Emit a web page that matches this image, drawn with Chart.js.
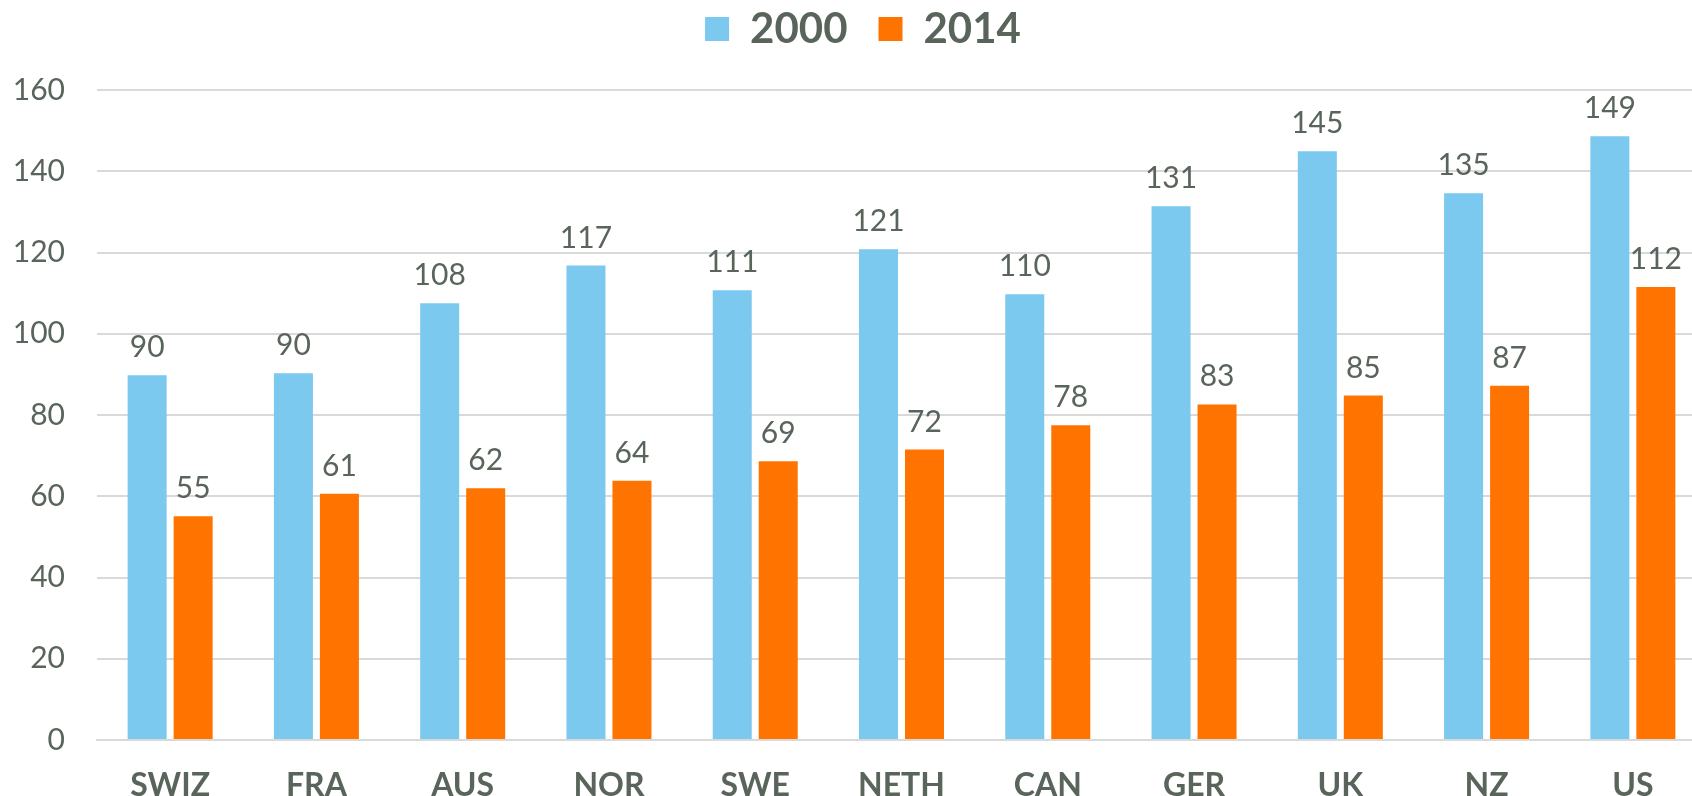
<!DOCTYPE html>
<html>
<head>
<meta charset="utf-8">
<script src="https://cdn.jsdelivr.net/npm/chart.js@4.4.1/dist/chart.umd.min.js"></script>
<style>
html,body{margin:0;padding:0;background:#fff;overflow:hidden;}
#wrap{width:1692px;height:796px;position:relative;overflow:hidden;}
canvas{display:block;}
</style>
</head>
<body>
<div id="wrap"><canvas id="c" width="1706" height="796"></canvas></div>
<script>
const categories = ['SWIZ','FRA','AUS','NOR','SWE','NETH','CAN','GER','UK','NZ','US'];
const seriesNames = ['2000','2014'];
const values2000 = [89.8, 90.3, 107.5, 116.8, 110.7, 120.8, 109.7, 131.4, 144.9, 134.6, 148.6];
const values2014 = [55.1, 60.6, 62.0, 63.8, 68.6, 71.5, 77.5, 82.6, 84.8, 87.2, 111.5];
const yTicks = [0, 20, 40, 60, 80, 100, 120, 140, 160];

const TEXT = '#59655b';
const FONT = 'Lato, "Open Sans", sans-serif';

const valueLabels = {
  id: 'valueLabels',
  afterDatasetsDraw(chart) {
    const ctx = chart.ctx;
    ctx.save();
    ctx.font = '30px ' + FONT;
    ctx.fillStyle = TEXT;
    ctx.textAlign = 'center';
    ctx.textBaseline = 'alphabetic';
    chart.data.datasets.forEach((ds, i) => {
      chart.getDatasetMeta(i).data.forEach((el, j) => {
        ctx.fillText(String(Math.round(ds.data[j])), el.x, el.y - 18);
      });
    });
    ctx.restore();
  }
};

const legendShift = {
  id: 'legendShift',
  afterLayout(chart) {
    const lg = chart.legend;
    if (lg) { lg.top -= 30; lg.bottom -= 30; lg.left += 10; lg.right += 10; }
  }
};

function draw() {
  new Chart(document.getElementById('c'), {
    type: 'bar',
    data: {
      labels: categories,
      datasets: [
        { label: seriesNames[0], data: values2000, backgroundColor: '#7BC9EE', barPercentage: 0.848, categoryPercentage: 0.629 },
        { label: seriesNames[1], data: values2014, backgroundColor: '#FF7400', barPercentage: 0.848, categoryPercentage: 0.629 }
      ]
    },
    options: {
      responsive: false,
      animation: false,
      devicePixelRatio: 1,
      layout: { padding: { top: 7, right: 0, bottom: 0, left: 0 } },
      plugins: {
        legend: {
          display: true,
          position: 'top',
          labels: {
            font: { family: FONT, size: 42, weight: 'bold' },
            color: TEXT,
            boxWidth: 24,
            boxHeight: 24,
            padding: 31
          }
        },
        tooltip: { enabled: false }
      },
      scales: {
        x: {
          grid: { display: false, drawTicks: false },
          border: { display: true, color: '#d9d9d9', width: 2 },
          ticks: {
            font: { family: FONT, size: 32, weight: 'bold' },
            color: TEXT,
            padding: 26,
            maxRotation: 0,
            autoSkip: false
          },
          afterFit(s) { s.height = 56; }
        },
        y: {
          min: 0,
          max: 160,
          afterBuildTicks(s) { s.ticks = yTicks.map(v => ({ value: v })); },
          grid: { color: '#d9d9d9', lineWidth: 2, drawTicks: false },
          border: { display: false },
          ticks: {
            font: { family: FONT, size: 30 },
            color: TEXT,
            padding: 32
          },
          afterFit(s) { s.width = 97; }
        }
      }
    },
    plugins: [valueLabels, legendShift]
  });
}

if (document.fonts && document.fonts.load) {
  Promise.all([
    document.fonts.load('bold 42px Lato'),
    document.fonts.load('30px Lato')
  ]).then(draw, draw);
} else {
  draw();
}
</script>
</body>
</html>
